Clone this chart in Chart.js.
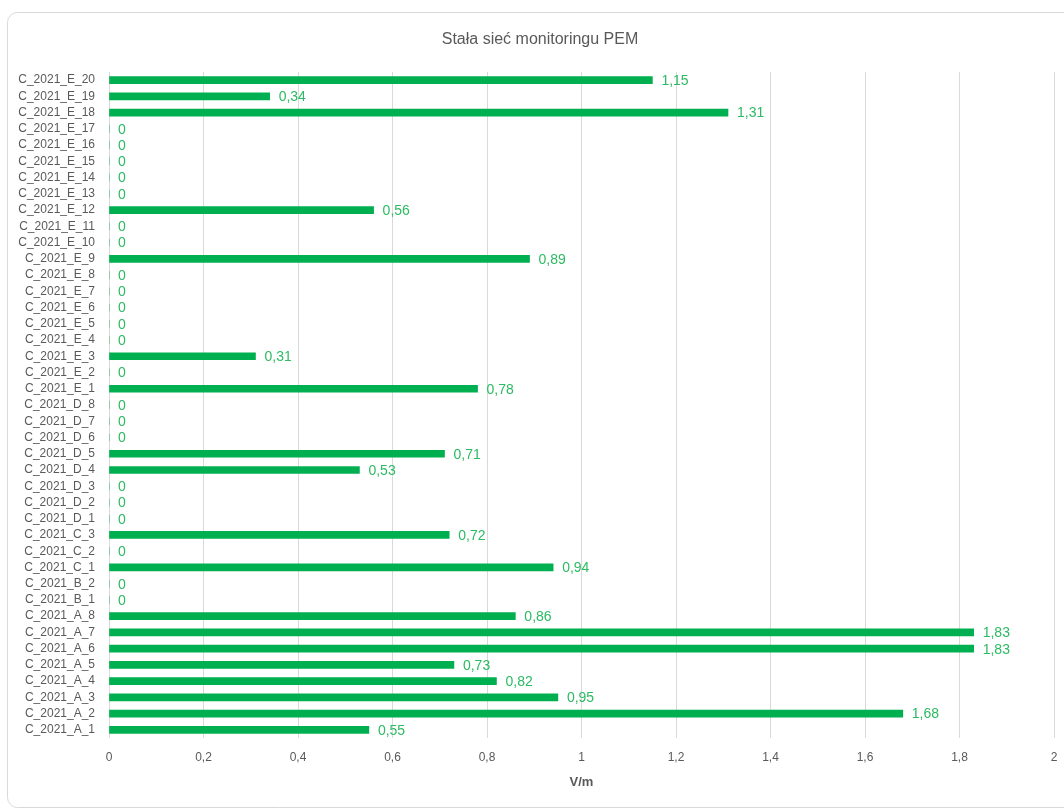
<!DOCTYPE html>
<html>
<head>
<meta charset="utf-8">
<script src="https://cdn.jsdelivr.net/npm/chart.js@4/dist/chart.umd.min.js"></script>
<style>
  html, body { margin: 0; padding: 0; background: #ffffff; }
  #wrap { width: 1064px; height: 810px; position: relative; }
</style>
</head>
<body>
<div id="wrap"><canvas id="pemChart"></canvas></div>
<script>
// categories, bottom to top as in the picture
const stations = [
    'C_2021_A_1', 'C_2021_A_2', 'C_2021_A_3', 'C_2021_A_4', 'C_2021_A_5', 'C_2021_A_6', 'C_2021_A_7', 'C_2021_A_8',
    'C_2021_B_1', 'C_2021_B_2',
    'C_2021_C_1', 'C_2021_C_2', 'C_2021_C_3',
    'C_2021_D_1', 'C_2021_D_2', 'C_2021_D_3', 'C_2021_D_4', 'C_2021_D_5', 'C_2021_D_6', 'C_2021_D_7', 'C_2021_D_8',
    'C_2021_E_1', 'C_2021_E_2', 'C_2021_E_3', 'C_2021_E_4', 'C_2021_E_5', 'C_2021_E_6', 'C_2021_E_7', 'C_2021_E_8',
    'C_2021_E_9', 'C_2021_E_10', 'C_2021_E_11', 'C_2021_E_12', 'C_2021_E_13', 'C_2021_E_14', 'C_2021_E_15',
    'C_2021_E_16', 'C_2021_E_17', 'C_2021_E_18', 'C_2021_E_19', 'C_2021_E_20'
];

// V/m, same order as stations
const fieldValues = [
    0.55, 1.68, 0.95, 0.82, 0.73, 1.83, 1.83, 0.86,
    0, 0,
    0.94, 0, 0.72,
    0, 0, 0, 0.53, 0.71, 0, 0, 0,
    0.78, 0, 0.31, 0, 0, 0, 0, 0,
    0.89, 0, 0, 0.56, 0, 0, 0,
    0, 0, 1.31, 0.34, 1.15
];

const xTickValues = [0, 0.2, 0.4, 0.6, 0.8, 1, 1.2, 1.4, 1.6, 1.8, 2];

const barColor = '#00B050';
const labelColor = '#2CBA62';
const textColor = '#595959';
const gridColor = '#d9d9d9';
const fontFamily = '"Liberation Sans", Arial, sans-serif';

function plComma(v) {
    return String(Number(v.toFixed(2))).replace('.', ',');
}

// border of the chart area + title
const framePlugin = {
    id: 'frame',
    beforeDraw(chart) {
        const ctx = chart.ctx;
        ctx.save();
        ctx.strokeStyle = gridColor;
        ctx.lineWidth = 1;
        ctx.beginPath();
        ctx.roundRect(7.5, 12.5, 1100, 795, 10);
        ctx.stroke();
        ctx.fillStyle = textColor;
        ctx.font = '16px ' + fontFamily;
        ctx.textAlign = 'center';
        ctx.textBaseline = 'middle';
        ctx.fillText('Stała sieć monitoringu PEM', 540, 40);
        ctx.restore();
    }
};

// value labels at the end of each bar
const valueLabelPlugin = {
    id: 'valueLabels',
    afterDatasetsDraw(chart) {
        const ctx = chart.ctx;
        const meta = chart.getDatasetMeta(0);
        ctx.save();
        ctx.fillStyle = labelColor;
        ctx.font = '14px ' + fontFamily;
        ctx.textAlign = 'left';
        ctx.textBaseline = 'middle';
        meta.data.forEach((bar, i) => {
            ctx.fillText(plComma(fieldValues[i]), bar.x + 9, bar.y + 1);
        });
        ctx.restore();
    }
};

new Chart(document.getElementById('pemChart'), {
    type: 'bar',
    data: {
        labels: stations,
        datasets: [{
            label: 'V/m',
            data: fieldValues,
            backgroundColor: barColor,
            barThickness: 7
        }]
    },
    options: {
        indexAxis: 'y',
        responsive: true,
        maintainAspectRatio: false,
        animation: false,
        layout: { padding: { top: 72, right: 10, bottom: 1, left: 0 } },
        plugins: {
            legend: { display: false },
            tooltip: { enabled: false }
        },
        scales: {
            x: {
                min: 0,
                max: 2,
                afterBuildTicks: scale => {
                    scale.ticks = xTickValues.map(v => ({ value: v }));
                },
                afterFit: scale => {
                    scale.height = 71;
                    scale.paddingLeft = 0;
                    scale.paddingRight = 0;
                },
                grid: { color: gridColor, drawTicks: false },
                border: { display: false },
                ticks: {
                    color: textColor,
                    padding: 12,
                    font: { family: fontFamily, size: 12 },
                    callback: v => plComma(v)
                },
                title: {
                    display: true,
                    text: 'V/m',
                    color: textColor,
                    padding: { top: 4, bottom: 19 },
                    font: { family: fontFamily, size: 13, weight: 'bold' }
                }
            },
            y: {
                reverse: true,
                afterFit: scale => { scale.width = 109; },
                grid: { display: false, drawTicks: false },
                border: { display: false },
                ticks: {
                    color: textColor,
                    padding: 14,
                    autoSkip: false,
                    font: { family: fontFamily, size: 12 }
                }
            }
        }
    },
    plugins: [framePlugin, valueLabelPlugin]
});
</script>
</body>
</html>
